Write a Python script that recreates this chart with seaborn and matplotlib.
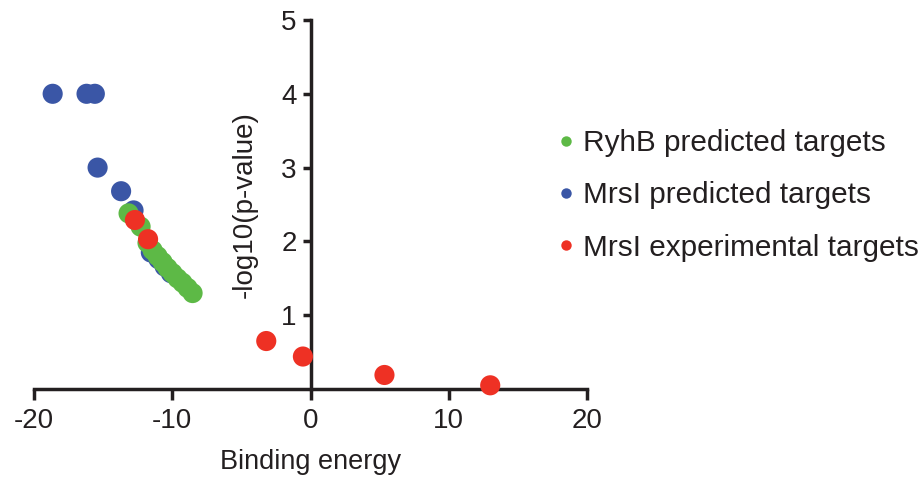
import numpy as np
import pandas as pd
import matplotlib
matplotlib.use("Agg")
import matplotlib.pyplot as plt
import seaborn as sns
from matplotlib.lines import Line2D

sns.set_theme(style="ticks")
plt.rcParams["font.family"] = ["Liberation Sans", "DejaVu Sans"]

series = ["RyhB predicted targets", "MrsI predicted targets", "MrsI experimental targets"]
colors = ["#5DB946", "#3A56A6", "#EE3124"]

# MrsI predicted targets (blue)
mrsi_pred_x = [-18.65, -16.2, -15.6, -15.4, -13.7, -12.8, -11.55, -11.0, -10.55, -10.1]
mrsi_pred_y = [4.0, 4.0, 4.0, 3.0, 2.68, 2.42, 1.85, 1.76, 1.66, 1.57]

# RyhB predicted targets (green)
ryhb_x = [-13.16, -12.29, -11.79, -11.42, -11.06, -10.70, -10.34, -9.98, -9.62, -9.26, -8.89, -8.53]
ryhb_y = [2.38, 2.20, 1.98, 1.88, 1.80, 1.72, 1.64, 1.57, 1.50, 1.44, 1.37, 1.30]

# MrsI experimental targets (red)
mrsi_exp_x = [-12.7, -11.75, -3.2, -0.55, 5.35, 13.0]
mrsi_exp_y = [2.29, 2.03, 0.65, 0.44, 0.19, 0.05]

x_ticks = [-20, -10, 0, 10, 20]
y_ticks = [1, 2, 3, 4, 5]

df = pd.concat([
    pd.DataFrame({"energy": mrsi_pred_x, "logp": mrsi_pred_y, "group": series[1]}),
    pd.DataFrame({"energy": ryhb_x, "logp": ryhb_y, "group": series[0]}),
    pd.DataFrame({"energy": mrsi_exp_x, "logp": mrsi_exp_y, "group": series[2]}),
], ignore_index=True)

fig = plt.figure(figsize=(9.24, 4.82), dpi=100)
ax = fig.add_axes([34 / 924, 1 - 389 / 482, 553 / 924, 369 / 482])

sns.scatterplot(data=df, x="energy", y="logp", hue="group", hue_order=series,
                palette=colors, s=210, linewidth=0, alpha=1, ax=ax, legend=False,
                zorder=3, clip_on=False)

ax.set_xlim(-20, 20)
ax.set_ylim(0, 5)
ax.set_xticks(x_ticks)
ax.set_yticks(y_ticks)
ax.set_xticklabels([str(v) for v in x_ticks])
ax.set_yticklabels([str(v) for v in y_ticks])

for s in ["top", "right"]:
    ax.spines[s].set_visible(False)
ax.spines["left"].set_position(("data", 0))
for s in ["left", "bottom"]:
    ax.spines[s].set_linewidth(2.5)
    ax.spines[s].set_color("#231F20")

ax.tick_params(axis="both", colors="#231F20", labelsize=20, width=2.5)
ax.tick_params(axis="x", length=8, pad=6)
ax.tick_params(axis="y", length=6, pad=4)

ax.set_xlabel("Binding energy", fontsize=19.5, color="#231F20", va="top")
ax.xaxis.set_label_coords(0.5, -0.163)
ax.set_ylabel("-log10(p-value)", fontsize=20, color="#231F20")
ax.yaxis.set_label_coords(0.404, 0.5)

handles = [Line2D([0], [0], marker="o", linestyle="", markersize=7.5,
                  markerfacecolor=c, markeredgewidth=0) for c in colors]
fig.legend(handles, series, loc="upper left",
           bbox_to_anchor=(559 / 924, 1 - 129 / 482), bbox_transform=fig.transFigure,
           frameon=False, fontsize=21.4, handlelength=0.5, handletextpad=0.3,
           labelspacing=0.82, borderpad=0, borderaxespad=0, labelcolor="#231F20")

fig.savefig("out.png", dpi=100, facecolor="white")
